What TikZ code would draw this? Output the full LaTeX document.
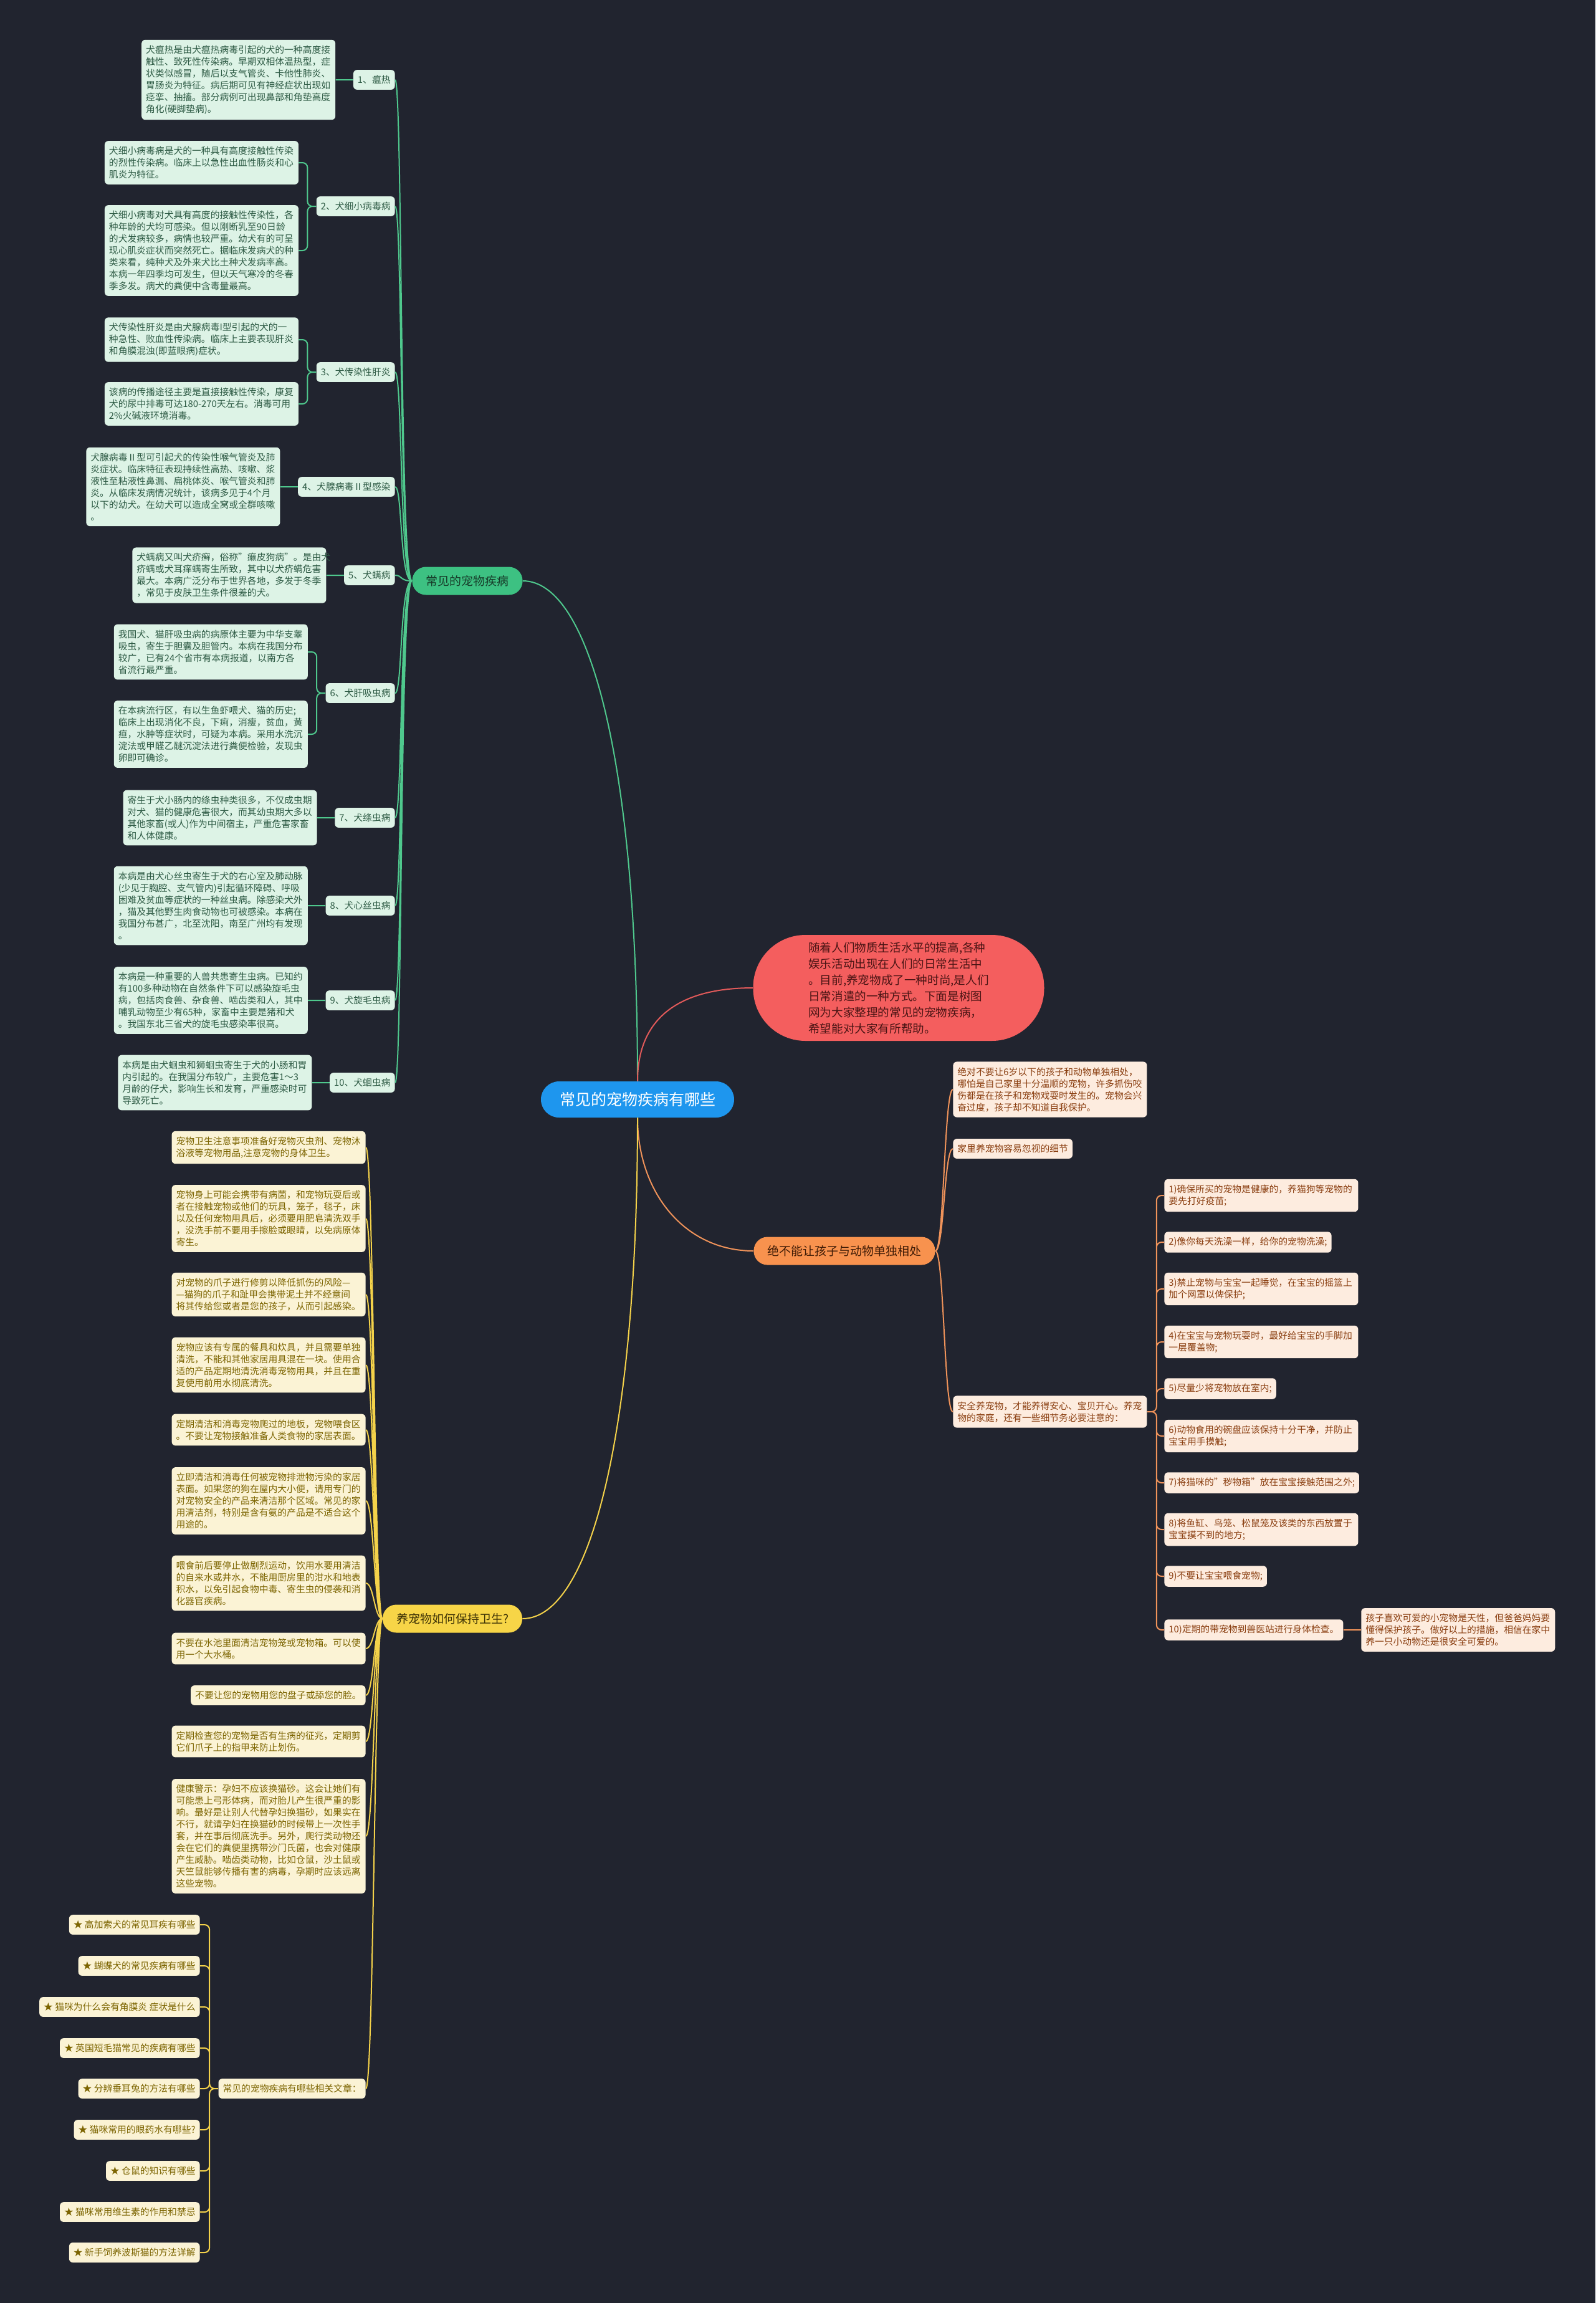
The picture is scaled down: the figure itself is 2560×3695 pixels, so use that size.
\documentclass[tikz,border=0pt]{standalone}
\usepackage{fontspec}
\setmainfont{Noto Sans CJK SC}
\usepackage{tikz}
\usetikzlibrary{positioning}

\definecolor{bgdark}{RGB}{33,36,47}
\definecolor{rootblue}{HTML}{1E96EE}
\definecolor{gmid}{HTML}{3DC182}
\definecolor{gdark}{HTML}{173D2A}
\definecolor{gpale}{HTML}{DDF3E6}
\definecolor{gtext}{HTML}{2D5A44}
\definecolor{gcol}{HTML}{4FC88D}
\definecolor{rmid}{HTML}{F45E5E}
\definecolor{rdark}{HTML}{4A1414}
\definecolor{rcol}{HTML}{E25A5A}
\definecolor{omid}{HTML}{F8924E}
\definecolor{odark}{HTML}{3D1A05}
\definecolor{opale}{HTML}{FDECDF}
\definecolor{otext}{HTML}{8A3E10}
\definecolor{ocol}{HTML}{F0935A}
\definecolor{ymid}{HTML}{F7D547}
\definecolor{ydark}{HTML}{3D3205}
\definecolor{ypale}{HTML}{FBF3D5}
\definecolor{ytext}{HTML}{7C6400}
\definecolor{ycol}{HTML}{F4D24A}

\begin{document}
\begin{tikzpicture}[x=0.5pt,y=-0.5pt,node distance=14pt,
rootnode/.style={fill=rootblue,text=white,rounded corners=14.5pt,minimum height=29pt,inner xsep=15pt,font=\fontsize{12.5}{15}\selectfont},
branch/.style={rounded corners=11pt,minimum height=22.5pt,inner xsep=11pt,font=\fontsize{9.5}{11}\selectfont},
gbranch/.style={branch,fill=gmid,text=gdark},
obranch/.style={branch,fill=omid,text=odark},
ybranch/.style={branch,fill=ymid,text=ydark},
intro/.style={fill=rmid,text=rdark,rounded corners=42pt,minimum width=233.5pt,minimum height=85pt,align=left,font=\fontsize{9.3}{13}\selectfont},
txtbox/.style={rounded corners=3pt,align=left,inner xsep=3.5pt,inner ysep=4.5pt,font=\fontsize{7.4}{9.5}\selectfont},
wide/.style={text width=148.5pt},
gbox/.style={txtbox,fill=gpale,text=gtext},
obox/.style={txtbox,fill=opale,text=otext},
ybox/.style={txtbox,fill=ypale,text=ytext},
gline/.style={draw=gcol,line width=1pt},
rline/.style={draw=rcol,line width=1pt},
oline/.style={draw=ocol,line width=1pt},
yline/.style={draw=ycol,line width=1pt}]

\fill[bgdark] (0,0) rectangle (2560,3695);
\useasboundingbox (0,0) rectangle (2560,3695);

\node[rootnode] (root) at (1023,1764) {常见的宠物疾病有哪些};
\node[intro] (intro) at (1442,1585) {随着人们物质生活水平的提高,各种\\娱乐活动出现在人们的日常生活中\\。目前,养宠物成了一种时尚,是人们\\日常消遣的一种方式。下面是树图\\网为大家整理的常见的宠物疾病，\\希望能对大家有所帮助。};

% common diseases
\node[gbranch] (gb) at (750,932) {常见的宠物疾病};

\node[gbox,anchor=east] (l1) at (634,128) {1、瘟热};
\node[gbox,wide,left=of l1] (t1) {犬瘟热是由犬瘟热病毒引起的犬的一种高度接\\触性、致死性传染病。早期双相体温热型，症\\状类似感冒，随后以支气管炎、卡他性肺炎、\\胃肠炎为特征。病后期可见有神经症状出现如\\痉挛、抽搐。部分病例可出现鼻部和角垫高度\\角化(硬脚垫病)。};

\node[gbox,anchor=east] (l2) at (634,331) {2、犬细小病毒病};
\node[gbox,wide,left=of l2,yshift=35pt] (t2a) {犬细小病毒病是犬的一种具有高度接触性传染\\的烈性传染病。临床上以急性出血性肠炎和心\\肌炎为特征。};
\node[gbox,wide,left=of l2,yshift=-35.5pt] (t2b) {犬细小病毒对犬具有高度的接触性传染性，各\\种年龄的犬均可感染。但以刚断乳至90日龄\\的犬发病较多，病情也较严重。幼犬有的可呈\\现心肌炎症状而突然死亡。据临床发病犬的种\\类来看，纯种犬及外来犬比土种犬发病率高。\\本病一年四季均可发生，但以天气寒冷的冬春\\季多发。病犬的粪便中含毒量最高。};

\node[gbox,anchor=east] (l3) at (634,597) {3、犬传染性肝炎};
\node[gbox,wide,left=of l3,yshift=26pt] (t3a) {犬传染性肝炎是由犬腺病毒I型引起的犬的一\\种急性、败血性传染病。临床上主要表现肝炎\\和角膜混浊(即蓝眼病)症状。};
\node[gbox,wide,left=of l3,yshift=-25.5pt] (t3b) {该病的传播途径主要是直接接触性传染，康复\\犬的尿中排毒可达180-270天左右。消毒可用\\2\%火碱液环境消毒。};

\node[gbox,anchor=east] (l4) at (634,781) {4、犬腺病毒Ⅱ型感染};
\node[gbox,wide,left=of l4] (t4) {犬腺病毒Ⅱ型可引起犬的传染性喉气管炎及肺\\炎症状。临床特征表现持续性高热、咳嗽、浆\\液性至粘液性鼻漏、扁桃体炎、喉气管炎和肺\\炎。从临床发病情况统计，该病多见于4个月\\以下的幼犬。在幼犬可以造成全窝或全群咳嗽\\。};

\node[gbox,anchor=east] (l5) at (634,923) {5、犬螨病};
\node[gbox,wide,left=of l5] (t5) {犬螨病又叫犬疥癣，俗称"癞皮狗病"。是由犬\\疥螨或犬耳痒螨寄生所致，其中以犬疥螨危害\\最大。本病广泛分布于世界各地，多发于冬季\\，常见于皮肤卫生条件很差的犬。};

\node[gbox,anchor=east] (l6) at (634,1112) {6、犬肝吸虫病};
\node[gbox,wide,left=of l6,yshift=33pt] (t6a) {我国犬、猫肝吸虫病的病原体主要为中华支睾\\吸虫，寄生于胆囊及胆管内。本病在我国分布\\较广，已有24个省市有本病报道，以南方各\\省流行最严重。};
\node[gbox,wide,left=of l6,yshift=-33pt] (t6b) {在本病流行区，有以生鱼虾喂犬、猫的历史;\\临床上出现消化不良，下痢，消瘦，贫血，黄\\疸，水肿等症状时，可疑为本病。采用水洗沉\\淀法或甲醛乙醚沉淀法进行粪便检验，发现虫\\卵即可确诊。};

\node[gbox,anchor=east] (l7) at (634,1312) {7、犬绦虫病};
\node[gbox,wide,left=of l7] (t7) {寄生于犬小肠内的绦虫种类很多，不仅成虫期\\对犬、猫的健康危害很大，而其幼虫期大多以\\其他家畜(或人)作为中间宿主，严重危害家畜\\和人体健康。};

\node[gbox,anchor=east] (l8) at (634,1453) {8、犬心丝虫病};
\node[gbox,wide,left=of l8] (t8) {本病是由犬心丝虫寄生于犬的右心室及肺动脉\\(少见于胸腔、支气管内)引起循环障碍、呼吸\\困难及贫血等症状的一种丝虫病。除感染犬外\\，猫及其他野生肉食动物也可被感染。本病在\\我国分布甚广，北至沈阳，南至广州均有发现\\。};

\node[gbox,anchor=east] (l9) at (634,1605) {9、犬旋毛虫病};
\node[gbox,wide,left=of l9] (t9) {本病是一种重要的人兽共患寄生虫病。已知约\\有100多种动物在自然条件下可以感染旋毛虫\\病，包括肉食兽、杂食兽、啮齿类和人，其中\\哺乳动物至少有65种，家畜中主要是猪和犬\\。我国东北三省犬的旋毛虫感染率很高。};

\node[gbox,anchor=east] (l10) at (634,1737) {10、犬蛔虫病};
\node[gbox,wide,left=of l10] (t10) {本病是由犬蛔虫和狮蛔虫寄生于犬的小肠和胃\\内引起的。在我国分布较广，主要危害1～3\\月龄的仔犬，影响生长和发育，严重感染时可\\导致死亡。};

% children and pets
\node[obranch] (ob) at (1355,2007) {绝不能让孩子与动物单独相处};

\node[obox,wide,anchor=west] (o1) at (1529,1748) {绝对不要让6岁以下的孩子和动物单独相处，\\哪怕是自己家里十分温顺的宠物，许多抓伤咬\\伤都是在孩子和宠物戏耍时发生的。宠物会兴\\奋过度，孩子却不知道自我保护。};
\node[obox,anchor=west] (o2) at (1529,1843) {家里养宠物容易忽视的细节};
\node[obox,wide,anchor=west] (o3) at (1529,2265) {安全养宠物，才能养得安心、宝贝开心。养宠\\物的家庭，还有一些细节务必要注意的：};

\node[obox,wide,anchor=west] (s1) at (1868,1918) {1)确保所买的宠物是健康的，养猫狗等宠物的\\要先打好疫苗;};
\node[obox,anchor=west] (s2) at (1868,1993) {2)像你每天洗澡一样，给你的宠物洗澡;};
\node[obox,wide,anchor=west] (s3) at (1868,2068) {3)禁止宠物与宝宝一起睡觉，在宝宝的摇篮上\\加个网罩以俾保护;};
\node[obox,wide,anchor=west] (s4) at (1868,2153) {4)在宝宝与宠物玩耍时，最好给宝宝的手脚加\\一层覆盖物;};
\node[obox,anchor=west] (s5) at (1868,2228) {5)尽量少将宠物放在室内;};
\node[obox,wide,anchor=west] (s6) at (1868,2304) {6)动物食用的碗盘应该保持十分干净，并防止\\宝宝用手摸触;};
\node[obox,anchor=west] (s7) at (1868,2379) {7)将猫咪的"秽物箱"放在宝宝接触范围之外;};
\node[obox,wide,anchor=west] (s8) at (1868,2454) {8)将鱼缸、鸟笼、松鼠笼及该类的东西放置于\\宝宝摸不到的地方;};
\node[obox,anchor=west] (s9) at (1868,2529) {9)不要让宝宝喂食宠物;};
\node[obox,anchor=west] (s10) at (1868,2615) {10)定期的带宠物到兽医站进行身体检查。};
\node[obox,wide,right=of s10] (s10x) {孩子喜欢可爱的小宠物是天性，但爸爸妈妈要\\懂得保护孩子。做好以上的措施，相信在家中\\养一只小动物还是很安全可爱的。};

% hygiene
\node[ybranch] (yb) at (726,2597) {养宠物如何保持卫生?};

\node[ybox,wide,anchor=east] (y1) at (587,1841) {宠物卫生注意事项准备好宠物灭虫剂、宠物沐\\浴液等宠物用品,注意宠物的身体卫生。};
\node[ybox,wide,anchor=east] (y2) at (587,1955) {宠物身上可能会携带有病菌，和宠物玩耍后或\\者在接触宠物或他们的玩具，笼子，毯子，床\\以及任何宠物用具后，必须要用肥皂清洗双手\\，没洗手前不要用手擦脸或眼睛，以免病原体\\寄生。};
\node[ybox,wide,anchor=east] (y3) at (587,2077) {对宠物的爪子进行修剪以降低抓伤的风险—\\—猫狗的爪子和趾甲会携带泥土并不经意间\\将其传给您或者是您的孩子，从而引起感染。};
\node[ybox,wide,anchor=east] (y4) at (587,2190) {宠物应该有专属的餐具和炊具，并且需要单独\\清洗，不能和其他家居用具混在一块。使用合\\适的产品定期地清洗消毒宠物用具，并且在重\\复使用前用水彻底清洗。};
\node[ybox,wide,anchor=east] (y5) at (587,2294) {定期清洁和消毒宠物爬过的地板，宠物喂食区\\。不要让宠物接触准备人类食物的家居表面。};
\node[ybox,wide,anchor=east] (y6) at (587,2408) {立即清洁和消毒任何被宠物排泄物污染的家居\\表面。如果您的狗在屋内大小便，请用专门的\\对宠物安全的产品来清洁那个区域。常见的家\\用清洁剂，特别是含有氨的产品是不适合这个\\用途的。};
\node[ybox,wide,anchor=east] (y7) at (587,2540) {喂食前后要停止做剧烈运动，饮用水要用清洁\\的自来水或井水，不能用厨房里的泔水和地表\\积水，以免引起食物中毒、寄生虫的侵袭和消\\化器官疾病。};
\node[ybox,wide,anchor=east] (y8) at (587,2645) {不要在水池里面清洁宠物笼或宠物箱。可以使\\用一个大水桶。};
\node[ybox,anchor=east] (y9) at (587,2720) {不要让您的宠物用您的盘子或舔您的脸。};
\node[ybox,wide,anchor=east] (y10) at (587,2794) {定期检查您的宠物是否有生病的征兆，定期剪\\它们爪子上的指甲来防止划伤。};
\node[ybox,wide,anchor=east] (y11) at (587,2946) {健康警示：孕妇不应该换猫砂。这会让她们有\\可能患上弓形体病，而对胎儿产生很严重的影\\响。最好是让别人代替孕妇换猫砂，如果实在\\不行，就请孕妇在换猫砂的时候带上一次性手\\套，并在事后彻底洗手。另外，爬行类动物还\\会在它们的粪便里携带沙门氏菌，也会对健康\\产生威胁。啮齿类动物，比如仓鼠，沙土鼠或\\天竺鼠能够传播有害的病毒，孕期时应该远离\\这些宠物。};
\node[ybox,anchor=east] (y12) at (587,3351) {常见的宠物疾病有哪些相关文章：};

\node[ybox,anchor=east] (a1) at (321,3088) {★ 高加索犬的常见耳疾有哪些};
\node[ybox,anchor=east] (a2) at (321,3154) {★ 蝴蝶犬的常见疾病有哪些};
\node[ybox,anchor=east] (a3) at (321,3220) {★ 猫咪为什么会有角膜炎 症状是什么};
\node[ybox,anchor=east] (a4) at (321,3286) {★ 英国短毛猫常见的疾病有哪些};
\node[ybox,anchor=east] (a5) at (321,3351) {★ 分辨垂耳兔的方法有哪些};
\node[ybox,anchor=east] (a6) at (321,3417) {★ 猫咪常用的眼药水有哪些?};
\node[ybox,anchor=east] (a7) at (321,3483) {★ 仓鼠的知识有哪些};
\node[ybox,anchor=east] (a8) at (321,3549) {★ 猫咪常用维生素的作用和禁忌};
\node[ybox,anchor=east] (a9) at (321,3614) {★ 新手饲养波斯猫的方法详解};

% connectors
\draw[gline] (root.north) .. controls +(0,-500) and +(110,0) .. (gb.east);
\draw[rline] (root.north) .. controls +(0,-100) and +(-120,0) .. (intro.west);
\draw[oline] (root.south) .. controls +(0,120) and +(-110,0) .. (ob.west);
\draw[yline] (root.south) .. controls +(0,500) and +(110,0) .. (yb.east);

\draw[gline] (gb.west) .. controls +(-20,0) and +(12,0) .. (l1.east)
  (gb.west) .. controls +(-20,0) and +(12,0) .. (l2.east)
  (gb.west) .. controls +(-20,0) and +(12,0) .. (l3.east)
  (gb.west) .. controls +(-20,0) and +(12,0) .. (l4.east)
  (gb.west) .. controls +(-20,0) and +(12,0) .. (l5.east)
  (gb.west) .. controls +(-20,0) and +(12,0) .. (l6.east)
  (gb.west) .. controls +(-20,0) and +(12,0) .. (l7.east)
  (gb.west) .. controls +(-20,0) and +(12,0) .. (l8.east)
  (gb.west) .. controls +(-20,0) and +(12,0) .. (l9.east)
  (gb.west) .. controls +(-20,0) and +(12,0) .. (l10.east);
\draw[gline,rounded corners=4pt] (l1.west) -- (t1.east)
  (l2.west) -- ++(-14,0) |- (t2a.east)
  (l2.west) -- ++(-14,0) |- (t2b.east)
  (l3.west) -- ++(-14,0) |- (t3a.east)
  (l3.west) -- ++(-14,0) |- (t3b.east)
  (l4.west) -- (t4.east)
  (l5.west) -- (t5.east)
  (l6.west) -- ++(-14,0) |- (t6a.east)
  (l6.west) -- ++(-14,0) |- (t6b.east)
  (l7.west) -- (t7.east)
  (l8.west) -- (t8.east)
  (l9.west) -- (t9.east)
  (l10.west) -- (t10.east);

\draw[oline] (ob.east) .. controls +(14,0) and +(-14,0) .. (o1.west)
  (ob.east) .. controls +(14,0) and +(-14,0) .. (o2.west)
  (ob.east) .. controls +(14,0) and +(-14,0) .. (o3.west);
\draw[oline,rounded corners=4pt] (o3.east) -- ++(15,0) |- (s1.west)
  (o3.east) -- ++(15,0) |- (s2.west)
  (o3.east) -- ++(15,0) |- (s3.west)
  (o3.east) -- ++(15,0) |- (s4.west)
  (o3.east) -- ++(15,0) |- (s5.west)
  (o3.east) -- ++(15,0) |- (s6.west)
  (o3.east) -- ++(15,0) |- (s7.west)
  (o3.east) -- ++(15,0) |- (s8.west)
  (o3.east) -- ++(15,0) |- (s9.west)
  (o3.east) -- ++(15,0) |- (s10.west)
  (s10.east) -- (s10x.west);

\draw[yline] (yb.west) .. controls +(-13,0) and +(13,0) .. (y1.east)
  (yb.west) .. controls +(-13,0) and +(13,0) .. (y2.east)
  (yb.west) .. controls +(-13,0) and +(13,0) .. (y3.east)
  (yb.west) .. controls +(-13,0) and +(13,0) .. (y4.east)
  (yb.west) .. controls +(-13,0) and +(13,0) .. (y5.east)
  (yb.west) .. controls +(-13,0) and +(13,0) .. (y6.east)
  (yb.west) .. controls +(-13,0) and +(13,0) .. (y7.east)
  (yb.west) .. controls +(-13,0) and +(13,0) .. (y8.east)
  (yb.west) .. controls +(-13,0) and +(13,0) .. (y9.east)
  (yb.west) .. controls +(-13,0) and +(13,0) .. (y10.east)
  (yb.west) .. controls +(-13,0) and +(13,0) .. (y11.east)
  (yb.west) .. controls +(-13,0) and +(13,0) .. (y12.east);
\draw[yline,rounded corners=4pt] (y12.west) -- ++(-14,0) |- (a1.east)
  (y12.west) -- ++(-14,0) |- (a2.east)
  (y12.west) -- ++(-14,0) |- (a3.east)
  (y12.west) -- ++(-14,0) |- (a4.east)
  (y12.west) -- ++(-14,0) |- (a5.east)
  (y12.west) -- ++(-14,0) |- (a6.east)
  (y12.west) -- ++(-14,0) |- (a7.east)
  (y12.west) -- ++(-14,0) |- (a8.east)
  (y12.west) -- ++(-14,0) |- (a9.east);

\end{tikzpicture}
\end{document}
